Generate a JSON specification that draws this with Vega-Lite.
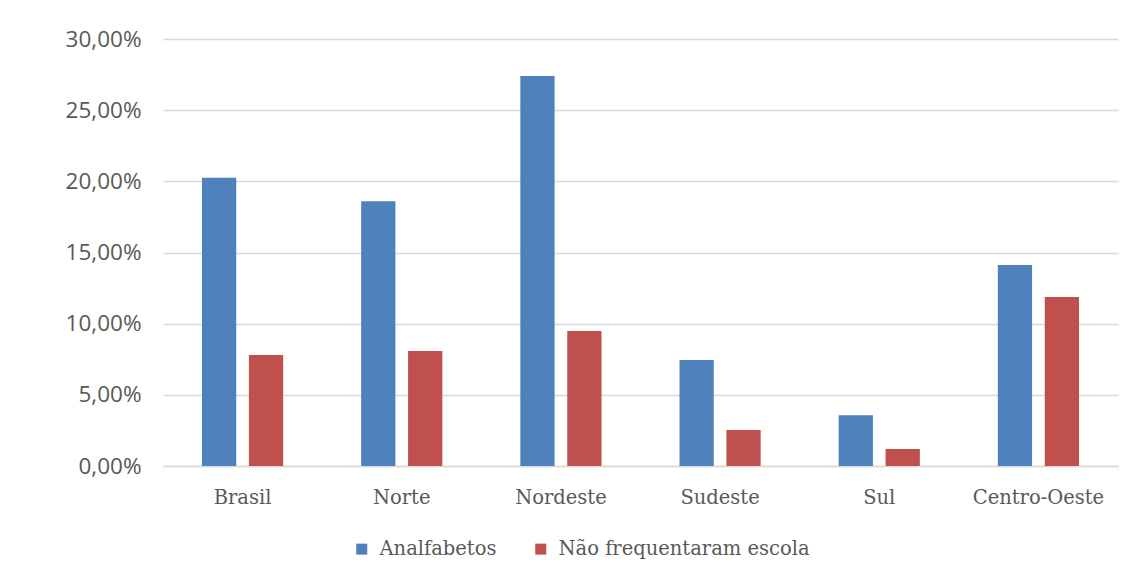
{
  "$schema": "https://vega.github.io/schema/vega-lite/v6.json",
  "width": 955,
  "height": 427,
  "autosize": {"type": "none"},
  "padding": {"left": 163, "top": 39, "right": 6, "bottom": 113},
  "background": "white",
  "config": {
    "view": {"stroke": null},
    "locale": {"number": {"decimal": ",", "thousands": ".", "grouping": [3], "currency": ["R$", ""]}}
  },
  "data": {
    "values": [
      {"regiao": "Brasil", "serie": "Analfabetos", "valor": 0.2025},
      {"regiao": "Brasil", "serie": "Não frequentaram escola", "valor": 0.078},
      {"regiao": "Norte", "serie": "Analfabetos", "valor": 0.186},
      {"regiao": "Norte", "serie": "Não frequentaram escola", "valor": 0.0808},
      {"regiao": "Nordeste", "serie": "Analfabetos", "valor": 0.274},
      {"regiao": "Nordeste", "serie": "Não frequentaram escola", "valor": 0.0948},
      {"regiao": "Sudeste", "serie": "Analfabetos", "valor": 0.0745},
      {"regiao": "Sudeste", "serie": "Não frequentaram escola", "valor": 0.0253},
      {"regiao": "Sul", "serie": "Analfabetos", "valor": 0.0357},
      {"regiao": "Sul", "serie": "Não frequentaram escola", "valor": 0.0119},
      {"regiao": "Centro-Oeste", "serie": "Analfabetos", "valor": 0.1412},
      {"regiao": "Centro-Oeste", "serie": "Não frequentaram escola", "valor": 0.1187}
    ]
  },
  "mark": {"type": "bar"},
  "encoding": {
    "x": {
      "field": "regiao",
      "type": "nominal",
      "sort": ["Brasil", "Norte", "Nordeste", "Sudeste", "Sul", "Centro-Oeste"],
      "scale": {"paddingInner": 0.49, "paddingOuter": 0.245},
      "axis": {
        "title": null,
        "labelAngle": 0,
        "labelFont": "DejaVu Serif",
        "labelFontSize": 19.5,
        "labelColor": "#595959",
        "labelPadding": 22,
        "labelLimit": 400,
        "ticks": false,
        "domainColor": "#d9d9d9",
        "domainWidth": 1.5,
        "grid": false
      }
    },
    "xOffset": {
      "field": "serie",
      "type": "nominal",
      "scale": {"paddingInner": 0.27}
    },
    "y": {
      "field": "valor",
      "type": "quantitative",
      "scale": {"domain": [0, 0.3]},
      "axis": {
        "title": null,
        "format": ".2%",
        "values": [0, 0.05, 0.1, 0.15, 0.2, 0.25, 0.3],
        "labelFont": "Open Sans",
        "labelFontSize": 22.5,
        "labelColor": "#595959",
        "labelPadding": 22,
        "ticks": false,
        "domain": false,
        "gridColor": "#d9d9d9",
        "gridWidth": 1.5
      }
    },
    "color": {
      "field": "serie",
      "type": "nominal",
      "scale": {"domain": ["Analfabetos", "Não frequentaram escola"], "range": ["#4f81bd", "#c0504d"]},
      "legend": {
        "title": null,
        "orient": "none",
        "direction": "horizontal",
        "legendX": 189,
        "legendY": 500,
        "symbolType": "square",
        "symbolSize": 121,
        "symbolStrokeWidth": 0,
        "labelFont": "DejaVu Serif",
        "labelFontSize": 19.5,
        "labelColor": "#595959",
        "labelLimit": 500,
        "columnPadding": 34,
        "labelOffset": 8
      }
    }
  }
}
